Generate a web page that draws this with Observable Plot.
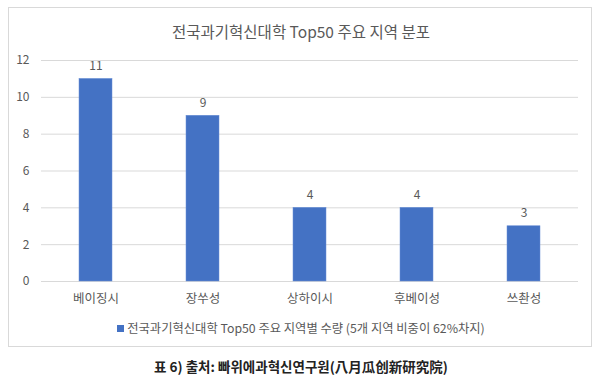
<!DOCTYPE html>
<html><head><meta charset="utf-8">
<script src="https://cdn.jsdelivr.net/npm/d3@7"></script>
<script src="https://cdn.jsdelivr.net/npm/@observablehq/plot@0.6"></script>
<style>
body{margin:0;background:#fff;font-family:"Noto Sans CJK KR","Noto Sans",sans-serif;}
#wrap{position:relative;width:602px;height:386px;overflow:hidden;}
#frame{position:absolute;left:8px;top:7px;width:584px;height:340px;border:1px solid #d9d9d9;box-sizing:border-box;}
#title{position:absolute;left:0;top:20px;width:602px;text-align:center;font-size:15.5px;color:#595959;}
#chart{position:absolute;left:0;top:0;}
#legend{position:absolute;left:0;top:319px;width:602px;text-align:center;font-size:12.3px;color:#595959;}
#legend .sw{display:inline-block;width:7px;height:7px;background:#4472C4;margin-right:3px;vertical-align:1px;}
#caption{position:absolute;left:0;top:356px;width:602px;text-align:center;font-size:13.5px;font-weight:bold;color:#222;}
</style></head>
<body><div id="wrap">
<div id="frame"></div>
<div id="title">전국과기혁신대학 Top50 주요 지역 분포</div>
<div id="chart"></div>
<div id="legend"><span class="sw"></span>전국과기혁신대학 Top50 주요 지역별 수량 (5개 지역 비중이 62%차지)</div>
<div id="caption">표 6) 출처: 빠위에과혁신연구원(八月瓜创新研究院)</div>
</div>
<script>
const regions = ["베이징시","장쑤성","상하이시","후베이성","쓰촨성"];
const counts = [11, 9, 4, 4, 3];
const yTicks = [0, 2, 4, 6, 8, 10, 12];
const data = regions.map((r, i) => ({region: r, count: counts[i]}));

const chart = Plot.plot({
  width: 602,
  height: 310,
  marginTop: 60,
  marginBottom: 29,
  marginLeft: 41,
  marginRight: 24,
  style: {fontFamily: '"Noto Sans CJK KR","Noto Sans",sans-serif', color: "#595959", background: "transparent"},
  x: {domain: regions, paddingInner: 0.69, paddingOuter: 0.345, label: null},
  y: {domain: [0, 12], ticks: yTicks, label: null},
  marks: [
    Plot.gridY(yTicks, {stroke: "#d9d9d9", strokeOpacity: 1, strokeWidth: 1}),
    Plot.barY(data, {x: "region", y: "count", fill: "#4472C4", stroke: "#6a8fd6", strokeWidth: 0.5}),
    Plot.text(data, {x: "region", y: "count", text: d => String(d.count), dy: -13, fill: "#595959", fontSize: 12}),
    Plot.axisY(yTicks, {tickSize: 0, tickPadding: 12, fontSize: 12, fill: "#595959"}),
    Plot.axisX({tickSize: 0, tickPadding: 13, fontSize: 12.5, fill: "#595959", label: null})
  ]
});
document.getElementById("chart").appendChild(chart);
</script>
</body></html>
